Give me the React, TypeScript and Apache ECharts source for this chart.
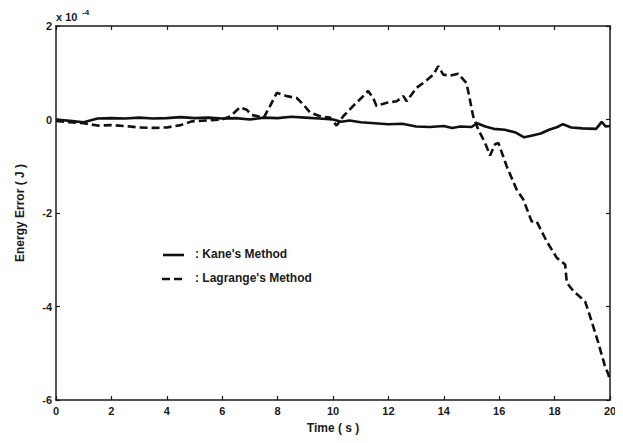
import React, { useEffect, useRef } from "react";
import * as echarts from "echarts";

const xTicks = [0, 2, 4, 6, 8, 10, 12, 14, 16, 18, 20];
const yTicks = [-6, -4, -2, 0, 2];

// Energy error in units of 1e-4 J
const kaneSeries: [number, number][] = [
  [0, 0], [0.5, -0.03], [1, -0.06], [1.5, 0.02], [2, 0.03], [2.5, 0.02], [3, 0.04], [3.5, 0.02],
  [4, 0.03], [4.5, 0.05], [5, 0.03], [5.5, 0.04], [6, 0.02], [6.5, 0.03], [7, 0.0], [7.5, 0.04],
  [8, 0.03], [8.5, 0.06], [9, 0.04], [9.5, 0.02], [10, 0.0], [10.3, -0.05], [10.6, -0.02],
  [11, -0.06], [11.5, -0.08], [12, -0.1], [12.5, -0.09], [13, -0.15], [13.5, -0.16], [14, -0.14],
  [14.3, -0.18], [14.6, -0.15], [15, -0.16], [15.2, -0.08], [15.5, -0.15], [15.8, -0.2],
  [16.2, -0.22], [16.6, -0.28], [16.9, -0.38], [17.2, -0.34], [17.5, -0.3], [17.8, -0.22],
  [18.1, -0.16], [18.3, -0.1], [18.6, -0.17], [19, -0.19], [19.5, -0.2], [19.7, -0.05],
  [19.85, -0.15], [20, -0.14],
];

const lagrangeSeries: [number, number][] = [
  [0, -0.03], [0.5, -0.06], [1, -0.08], [1.5, -0.13], [2, -0.12], [2.5, -0.14], [3, -0.17],
  [3.5, -0.18], [4, -0.17], [4.5, -0.12], [4.9, -0.04], [5.5, -0.02], [6, 0.0], [6.3, 0.07],
  [6.64, 0.26], [6.88, 0.21], [7.06, 0.1], [7.5, 0.04], [7.73, 0.29], [7.97, 0.57], [8.33, 0.5],
  [8.69, 0.46], [8.93, 0.32], [9.17, 0.15], [9.53, 0.07], [9.89, 0.04], [10.13, -0.13],
  [10.37, 0.07], [10.73, 0.29], [11.09, 0.5], [11.27, 0.61], [11.45, 0.46], [11.57, 0.29],
  [11.94, 0.36], [12.3, 0.39], [12.54, 0.5], [12.66, 0.39], [13.02, 0.68], [13.3, 0.8],
  [13.62, 0.96], [13.8, 1.14], [13.98, 0.96], [14.22, 0.94], [14.52, 0.98], [14.82, 0.78],
  [14.94, 0.43], [15.06, 0.07], [15.24, -0.21], [15.49, -0.5], [15.67, -0.77], [15.85, -0.53],
  [15.97, -0.5], [16.27, -1.0], [16.63, -1.5], [16.87, -1.71], [17.17, -2.18], [17.35, -2.18],
  [17.71, -2.6], [18.08, -2.96], [18.38, -3.1], [18.44, -3.49], [18.68, -3.67], [19.1, -3.89],
  [19.28, -4.21], [19.58, -4.78], [19.82, -5.28], [19.94, -5.45], [20, -5.6],
];

const seriesNames = ["Kane's Method", "Lagrange's Method"];
const xTitle = "Time ( s )";
const yTitle = "Energy Error ( J )";

const FONT = "'Liberation Sans', Arial, sans-serif";
const INK = "#1a1a1a";

export default function App() {
  const ref = useRef<HTMLDivElement>(null);
  useEffect(() => {
    if (!ref.current) return;
    const chart = echarts.init(ref.current, null, { renderer: "svg" });
    const axisLine = { show: true, onZero: false, lineStyle: { color: INK, width: 1.5 } };
    const tick = { show: true, inside: true, length: 4, lineStyle: { color: INK, width: 1.2 } };
    const label = { color: INK, fontFamily: FONT, fontWeight: "bold" as const, fontSize: 11 };
    chart.setOption({
      animation: false,
      backgroundColor: "#ffffff",
      grid: { left: 56, right: 13, top: 26, bottom: 43 },
      xAxis: [
        {
          type: "value", min: xTicks[0], max: xTicks[xTicks.length - 1], interval: 2,
          axisLine, axisTick: tick, splitLine: { show: false },
          axisLabel: { ...label, margin: 5 },
          name: xTitle, nameLocation: "middle", nameGap: 22,
          nameTextStyle: { color: INK, fontFamily: FONT, fontWeight: "bold", fontSize: 12 },
        },
        {
          type: "value", position: "top", min: 0, max: 20, interval: 2,
          axisLine, axisTick: tick, axisLabel: { show: false }, splitLine: { show: false },
        },
      ],
      yAxis: [
        {
          type: "value", min: yTicks[0], max: yTicks[yTicks.length - 1], interval: 2,
          axisLine, axisTick: tick, splitLine: { show: false },
          axisLabel: { ...label, margin: 4 },
          name: yTitle, nameLocation: "middle", nameGap: 30,
          nameTextStyle: { color: INK, fontFamily: FONT, fontWeight: "bold", fontSize: 12 },
        },
        {
          type: "value", position: "right", min: -6, max: 2, interval: 2,
          axisLine, axisTick: tick, axisLabel: { show: false }, splitLine: { show: false },
        },
      ],
      series: [
        {
          name: seriesNames[0], type: "line", data: kaneSeries, showSymbol: false,
          lineStyle: { color: "#111", width: 2.6, type: "solid" },
          xAxisIndex: 0, yAxisIndex: 0,
        },
        {
          name: seriesNames[1], type: "line", data: lagrangeSeries, showSymbol: false,
          lineStyle: { color: "#111", width: 2.6, type: [8, 4] },
          xAxisIndex: 0, yAxisIndex: 0,
        },
      ],
      graphic: [
        { type: "text", left: 56, top: 11, style: { text: "x 10", fill: INK, font: `bold 11px ${FONT}` } },
        { type: "text", left: 82, top: 8, style: { text: "-4", fill: INK, font: `bold 8px ${FONT}` } },
        { type: "line", shape: { x1: 163, y1: 255, x2: 184, y2: 255 }, style: { stroke: "#111", lineWidth: 2.6 } },
        { type: "text", left: 195, top: 248, style: { text: ": " + seriesNames[0], fill: INK, font: `bold 12px ${FONT}` } },
        { type: "line", shape: { x1: 162, y1: 279, x2: 186, y2: 279 }, style: { stroke: "#111", lineWidth: 2.6, lineDash: [8, 4] } },
        { type: "text", left: 195, top: 272, style: { text: ": " + seriesNames[1], fill: INK, font: `bold 12px ${FONT}` } },
      ],
    });
    return () => chart.dispose();
  }, []);
  return <div ref={ref} style={{ width: 623, height: 443, margin: -8 }} />;
}
